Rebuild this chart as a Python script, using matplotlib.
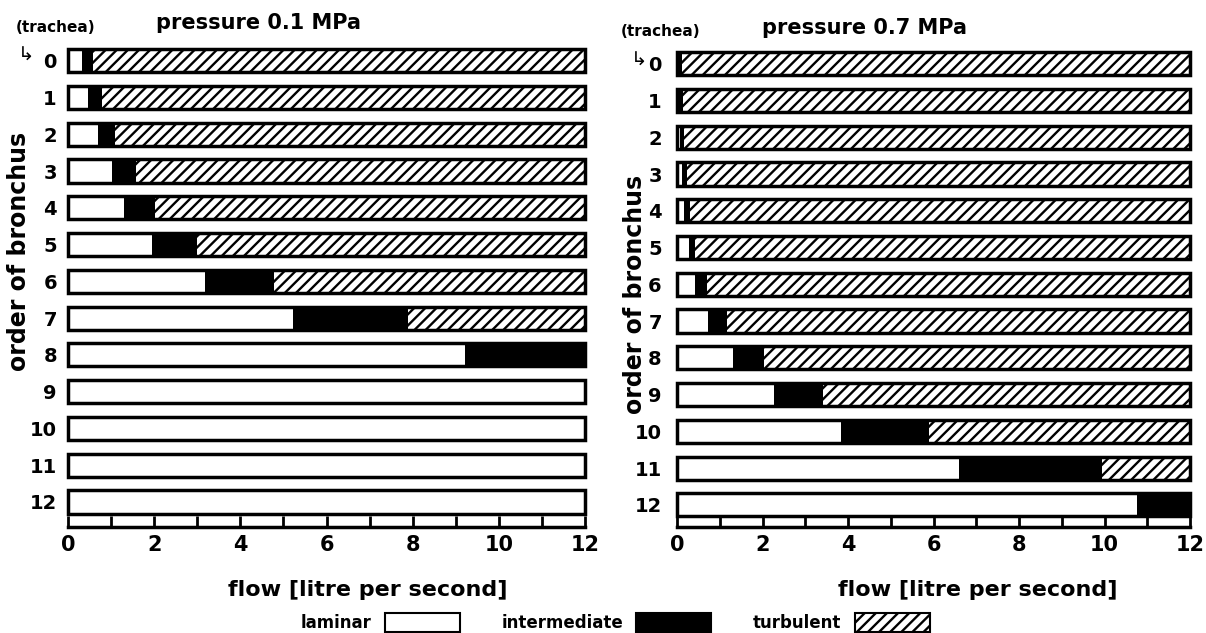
import numpy as np
import matplotlib
matplotlib.use("Agg")
from matplotlib import pyplot as plt
from matplotlib.patches import Patch

plt.rcParams['font.family'] = ['DejaVu Sans']
plt.rcParams['font.weight'] = 'bold'
plt.rcParams['hatch.linewidth'] = 1.7

orders = list(range(13))
xmax = 12

# pressure 0.1 MPa: end of laminar / end of intermediate range (litre per second)
lam_01 = [0.32, 0.47, 0.69, 1.01, 1.30, 1.96, 3.19, 5.23, 9.21, 12, 12, 12, 12]
int_01 = [0.59, 0.78, 1.09, 1.58, 2.02, 2.99, 4.77, 7.89, 12, 12, 12, 12, 12]

# pressure 0.7 MPa
lam_07 = [0.0, 0.0, 0.07, 0.12, 0.17, 0.27, 0.43, 0.72, 1.32, 2.26, 3.84, 6.60, 10.76]
int_07 = [0.12, 0.15, 0.16, 0.23, 0.31, 0.43, 0.70, 1.18, 2.03, 3.41, 5.89, 9.95, 12]


def draw(ax, lam, inter, ylim, pad):
    y = np.array(orders)
    lam = np.array(lam)
    inter = np.array(inter)
    h = 0.63
    ax.barh(y, lam, height=h, color='white', linewidth=0, clip_on=False)
    ax.barh(y, inter - lam, left=lam, height=h, color='black', linewidth=0, clip_on=False)
    ax.barh(y, xmax - inter, left=inter, height=h, color='white', edgecolor='black',
            hatch='///', linewidth=0, clip_on=False)
    ax.barh(y, [xmax] * len(y), height=h, fill=False, edgecolor='black',
            linewidth=2.5, clip_on=False)
    ax.set_xlim(0, xmax)
    ax.set_ylim(*ylim)
    for s in ['top', 'right', 'left']:
        ax.spines[s].set_visible(False)
    ax.spines['bottom'].set_linewidth(2.5)
    ax.set_xticks(range(0, 13, 2))
    ax.set_xticks(range(1, 13, 2), minor=True)
    ax.tick_params(axis='x', which='both', direction='in', length=8, width=2,
                   labelsize=15, pad=6)
    ax.set_yticks(orders)
    ax.set_yticklabels([str(o) for o in orders])
    ax.tick_params(axis='y', length=0, labelsize=14, pad=pad)


fig = plt.figure(figsize=(12.06, 6.33), dpi=100)
ax1 = fig.add_axes([0.0564, 0.1675, 0.4287, 0.7725])
ax2 = fig.add_axes([0.5614, 0.1675, 0.4254, 0.7725])
draw(ax1, lam_01, int_01, (12.68, -0.62), 8)
draw(ax2, lam_07, int_07, (12.6, -0.7), 11)

# titles and labels
fig.text(0.214, 0.963, 'pressure 0.1 MPa', ha='center', va='center', fontsize=15)
fig.text(0.717, 0.956, 'pressure 0.7 MPa', ha='center', va='center', fontsize=15)
fig.text(0.046, 0.957, '(trachea)', ha='center', va='center', fontsize=11)
fig.text(0.548, 0.951, '(trachea)', ha='center', va='center', fontsize=11)
fig.text(0.022, 0.912, '↳', ha='center', va='center', fontsize=14, fontweight='normal')
fig.text(0.530, 0.905, '↳', ha='center', va='center', fontsize=14, fontweight='normal')
fig.text(0.016, 0.602, 'order of bronchus', rotation=90, ha='center', va='center',
         fontsize=17)
fig.text(0.5265, 0.535, 'order of bronchus', rotation=90, ha='center', va='center',
         fontsize=17)
fig.text(0.305, 0.068, 'flow [litre per second]', ha='center', va='center', fontsize=16)
fig.text(0.811, 0.068, 'flow [litre per second]', ha='center', va='center', fontsize=16)

handles = [Patch(facecolor='white', edgecolor='black', linewidth=1.5),
           Patch(facecolor='black', edgecolor='black', linewidth=1.5),
           Patch(facecolor='white', edgecolor='black', hatch='///', linewidth=1.5)]
fig.legend(handles, ['laminar', 'intermediate', 'turbulent'], ncol=3,
           loc='lower center', bbox_to_anchor=(0.51, -0.022), frameon=False,
           markerfirst=False, handlelength=4.5, handleheight=1.4,
           columnspacing=2.5, fontsize=12)

fig.savefig('out.png', dpi=100)
